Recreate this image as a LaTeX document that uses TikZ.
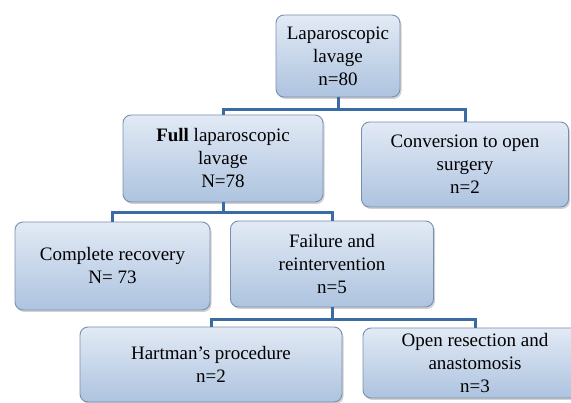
\documentclass[tikz,border=0pt]{standalone}
\usepackage{fontspec}
\setmainfont{Liberation Serif}
\usetikzlibrary{shadows}
\definecolor{boxtop}{HTML}{E2EAF5}
\definecolor{boxbot}{HTML}{ADC3DF}
\definecolor{boxedge}{HTML}{7890B0}
\definecolor{linkblue}{HTML}{3A6BA2}
\tikzset{
  x=1pt, y=-1pt,
  flowbox/.style={draw=boxedge, line width=0.9pt, rounded corners=8pt,
    top color=boxtop, bottom color=boxbot, align=center, inner sep=0pt,
    font=\fontsize{19}{23}\selectfont,
    drop shadow={shadow xshift=1.5pt, shadow yshift=-2pt, fill=black!30, opacity=0.6}},
  link/.style={draw=linkblue, line width=3pt}
}
\begin{document}
\begin{tikzpicture}
\useasboundingbox (0,0) rectangle (571,403);
\begin{pgfinterruptboundingbox}
% boxes
\node[flowbox, minimum width=124pt, minimum height=82pt] (b1) at (338,56) {Laparoscopic\\lavage\\n=80};
\node[flowbox, minimum width=200pt, minimum height=87pt] (b2) at (223,158.5) {\textbf{Full} laparoscopic\\lavage\\N=78};
\node[flowbox, minimum width=207pt, minimum height=85pt] (b3) at (465,164.5) {Conversion to open\\surgery\\n=2};
\node[flowbox, minimum width=195pt, minimum height=88pt] (b4) at (112.5,266) {Complete recovery\\N= 73};
\node[flowbox, minimum width=203pt, minimum height=86pt] (b5) at (332,264) {Failure and\\reintervention\\n=5};
\node[flowbox, minimum width=262pt, minimum height=75pt] (b6) at (211,364.5) {Hartman’s procedure\\n=2};
\node[flowbox, minimum width=224pt, minimum height=70pt] (b7) at (475,363) {Open resection and\\anastomosis\\n=3};
% connectors
\coordinate (j1) at (338,110);
\coordinate (j2) at (223,213);
\coordinate (j3) at (332,320);
\draw[link] (b1.south) -- (j1);
\draw[link] (j1) -| (b2.north);
\draw[link] (j1) -| (b3.north);
\draw[link] (b2.south) -- (j2);
\draw[link] (j2) -| (b4.north);
\draw[link] (j2) -| (b5.north);
\draw[link] (b5.south) -- (j3);
\draw[link] (j3) -| (b6.north);
\draw[link] (j3) -| (b7.north);
\end{pgfinterruptboundingbox}
\end{tikzpicture}
\end{document}
